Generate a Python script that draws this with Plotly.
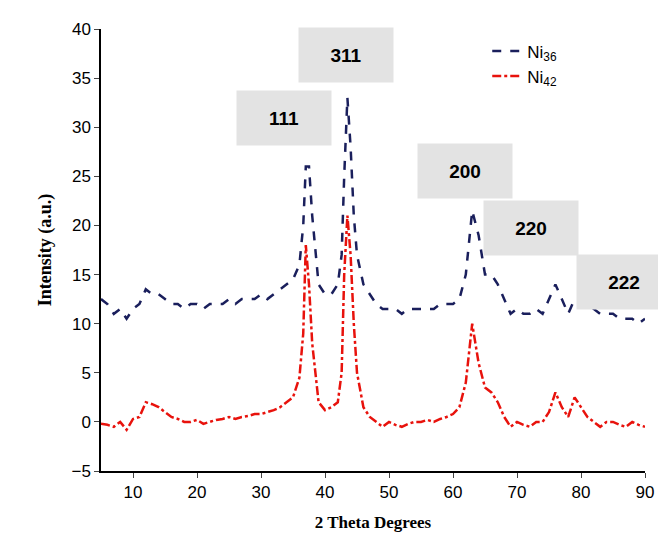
import plotly.graph_objects as go

theta = [5, 6, 7, 8, 9, 10, 11, 12, 13, 14, 15, 16, 17, 18, 19, 20, 21, 22, 23, 24, 25,
         26, 27, 28, 29, 30, 31, 32, 33, 34, 35, 36, 36.6, 37, 37.5, 38, 39, 40, 41, 42,
         42.6, 43, 43.5, 44, 44.5, 45, 46, 47, 48, 49, 50, 51, 52, 53, 54, 55, 56, 57, 58,
         59, 60, 61, 62, 63, 64, 65, 66, 67, 68, 69, 70, 71, 72, 73, 74, 75, 76, 77, 78,
         79, 80, 81, 82, 83, 84, 85, 86, 87, 88, 89, 90]

ni36 = [12.5, 12, 11, 11.5, 10.5, 11.5, 12, 13.5, 13, 13, 12.5, 12, 12, 11.5, 12, 12, 11.5,
        12, 12, 12, 12.5, 12, 12.5, 12.5, 12.5, 13, 12.5, 13, 13.5, 14, 14.5, 16, 20, 26,
        26, 21, 14, 13, 13, 14, 17, 25, 33, 28, 21, 17, 14, 13, 12, 11.5, 11.5, 11.5, 11,
        11.5, 11.5, 11.5, 11.5, 11.5, 12, 12, 12, 12.5, 15, 21.5, 19, 15, 15, 14, 12.5, 11,
        11.5, 11, 11, 11.5, 11, 12.5, 14, 12.5, 11, 12.5, 12.5, 12, 11.5, 11, 11, 11, 10.5,
        10.5, 10.5, 10, 10.5]

ni42 = [-0.2, -0.3, -0.5, 0, -0.8, 0.3, 0.5, 2, 1.8, 1.5, 1, 0.5, 0.3, 0, 0, 0.2, -0.2,
        0, 0.2, 0.3, 0.5, 0.3, 0.5, 0.6, 0.8, 0.8, 1, 1.2, 1.5, 2, 2.5, 4.5, 9, 18, 14,
        8, 2, 1.2, 1.5, 2, 5, 15, 21, 17, 10, 5, 1.5, 0.5, 0, -0.5, 0, -0.3, -0.5, -0.2,
        0, 0, 0.2, 0, 0.3, 0.5, 0.8, 1.5, 4, 10, 6, 3.5, 3, 2, 0.5, -0.5, 0, -0.3, -0.5,
        0, 0, 1, 3, 1.5, 0.5, 2.5, 1.5, 0.5, 0, -0.5, 0, 0, -0.3, -0.5, 0, -0.3, -0.5]

peak_labels = ["111", "311", "200", "220", "222"]
label_x = [33.6, 43.3, 61.9, 72.2, 86.7]
label_y = [30.9, 37.4, 25.5, 19.7, 14.2]

fig = go.Figure()
fig.add_trace(go.Scatter(x=theta, y=ni36, mode="lines", name="Ni<sub>36</sub>",
                         line=dict(color="#1a1f5c", width=2.5, dash="dash")))
fig.add_trace(go.Scatter(x=theta, y=ni42, mode="lines", name="Ni<sub>42</sub>",
                         line=dict(color="#e8120c", width=2.5, dash="dashdot")))

for t, x, y in zip(peak_labels, label_x, label_y):
    fig.add_annotation(x=x, y=y, text="<b>" + t + "</b>", showarrow=False,
                       font=dict(size=19, color="black", family="Arial"),
                       bgcolor="#e3e3e3", width=92, height=52, xanchor="center")

fig.update_layout(
    width=666, height=554, plot_bgcolor="white", paper_bgcolor="white",
    margin=dict(l=93, r=29, t=12, b=91),
    font=dict(family="Arial", size=17, color="black"),
    legend=dict(x=0.71, y=0.99, bgcolor="rgba(0,0,0,0)", font=dict(size=17)),
    xaxis=dict(range=[5, 90], tickvals=[10, 20, 30, 40, 50, 60, 70, 80, 90],
               showline=True, linecolor="black", linewidth=1.5, ticks="outside",
               showgrid=False, zeroline=False,
               title=dict(text="<b>2 Theta Degrees</b>",
                          font=dict(family="Times New Roman, Liberation Serif", size=17))),
    yaxis=dict(range=[-5, 40], dtick=5, showline=True, linecolor="black", linewidth=1.5,
               ticks="outside", showgrid=False, zeroline=False,
               title=dict(text="<b>Intensity (a.u.)</b>",
                          font=dict(family="Times New Roman, Liberation Serif", size=18))),
)

fig.write_html("out.html")
